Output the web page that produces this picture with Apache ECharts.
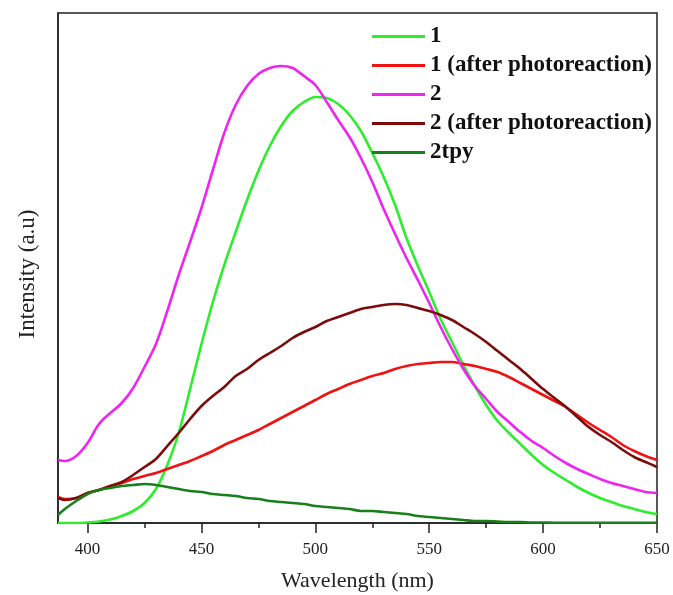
<!DOCTYPE html>
<html><head><meta charset="utf-8">
<script src="https://cdn.jsdelivr.net/npm/echarts@6/dist/echarts.min.js"></script>
<style>html,body{margin:0;padding:0;background:#fff}#c{width:673px;height:595px}</style>
</head><body><div id="c"></div>
<script>
const wavelength = [387,390,395,400,405,410,415,420,425,430,435,440,445,450,455,460,465,470,475,480,485,490,495,500,505,510,515,520,525,530,535,540,545,550,555,560,565,570,575,580,585,590,595,600,605,610,615,620,625,630,635,640,645,650];
const s1 = [0,0,0,0.5,1.5,3.5,7,12,20,34,58,90,134,179,221,258,291,323,352,377,397,412,421,426,425,419,408,392,370,346,318,285,257,231,204,181,158,137,118,102,90,79,68,58,50,43,36,30,25,21,17,14,11,9];
const s1after = [26,24,25,30,33,37,40,44,47,50,54,58,62,67,72,78,83,88,93,99,105,111,117,123,129,134,139,143,147,150,154,157,159,160,161,161,159,157,154,151,146,140,134,128,122,116,108,100,93,86,78,72,67,63];
const s2 = [63,62,67,80,99,110,120,135,156,179,212,248,281,315,353,390,418,437,449,455,457,455,447,438,421,403,386,365,341,314,289,265,243,220,196,174,154,137,124,111,101,91,82,75,67,60,54,49,44,40,37,34,31,30];
const s2after = [25,23,25,30,33,37,41,48,56,64,77,90,104,117,127,136,147,154,163,170,177,185,191,196,202,206,210,214,216,218,219,218,215,212,208,203,196,189,181,172,163,154,144,134,125,116,106,96,88,81,73,66,61,56];
const s2tpy = [8,14,22,29,33,35,37,38,39,38,36,34,32,31,29,28,27,25,24,22,21,20,19,17,16,15,14,12,12,11,10,9,7,6,5,4,3,2,2,1.5,1,1,0.5,0.5,0.3,0.3,0.3,0.3,0.3,0.3,0.3,0.3,0.3,0.3];
const seriesNames = ['1','1 (after photoreaction)','2','2 (after photoreaction)','2tpy'];
const seriesColors = ['#2cee2c','#f01212','#f024f0','#7c0c0c','#17801b'];
const majorTicks = [400,450,500,550,600,650];
const minorTicks = [425,475,525,575,625];

const allData = [s1, s1after, s2, s2after, s2tpy];
const font = 'Liberation Serif, Times New Roman, serif';
const chart = echarts.init(document.getElementById('c'));
chart.setOption({
  animation:false,
  grid:{left:58,right:16,top:13,bottom:72,show:true,borderColor:'#222',borderWidth:1.5,backgroundColor:'transparent',outerBoundsMode:'none',containLabel:false},
  legend:{orient:'vertical',left:367,top:17,itemWidth:53,itemHeight:3,itemGap:0,icon:'rect',
    textStyle:{fontFamily:font,fontWeight:'bold',fontSize:23,lineHeight:29,color:'#111'},
    data:seriesNames},
  xAxis:[{type:'value',min:387,max:650,position:'bottom',
    axisLine:{show:true,lineStyle:{color:'#222',width:1.5}},
    axisTick:{show:true,inside:false,length:10,customValues:majorTicks,lineStyle:{color:'#222',width:1.5}},
    axisLabel:{customValues:majorTicks,fontFamily:font,fontSize:17,color:'#222',margin:18},
    splitLine:{show:false},
    name:'Wavelength (nm)',nameLocation:'middle',nameGap:47,
    nameTextStyle:{fontFamily:font,fontSize:22,color:'#222'}},
   {type:'value',min:387,max:650,position:'bottom',
    axisLine:{show:false},
    axisTick:{show:true,inside:false,length:5,customValues:minorTicks,lineStyle:{color:'#222',width:1.5}},
    axisLabel:{show:false},splitLine:{show:false}}],
  yAxis:{type:'value',min:0,max:510,
    axisLine:{show:true,lineStyle:{color:'#222',width:1.5}},
    axisTick:{show:false},axisLabel:{show:false},splitLine:{show:false},
    name:'Intensity (a.u)',nameLocation:'middle',nameGap:19,
    nameTextStyle:{fontFamily:font,fontSize:23,color:'#222',padding:[0,12,0,0]}},
  series: allData.map((arr,i)=>({
    name:seriesNames[i],type:'line',xAxisIndex:0,
    data:wavelength.map((w,j)=>[w,arr[j]]),
    symbol:'none',smooth:0.3,
    lineStyle:{color:seriesColors[i],width:2.6},
    itemStyle:{color:seriesColors[i]}
  }))
});
</script></body></html>
